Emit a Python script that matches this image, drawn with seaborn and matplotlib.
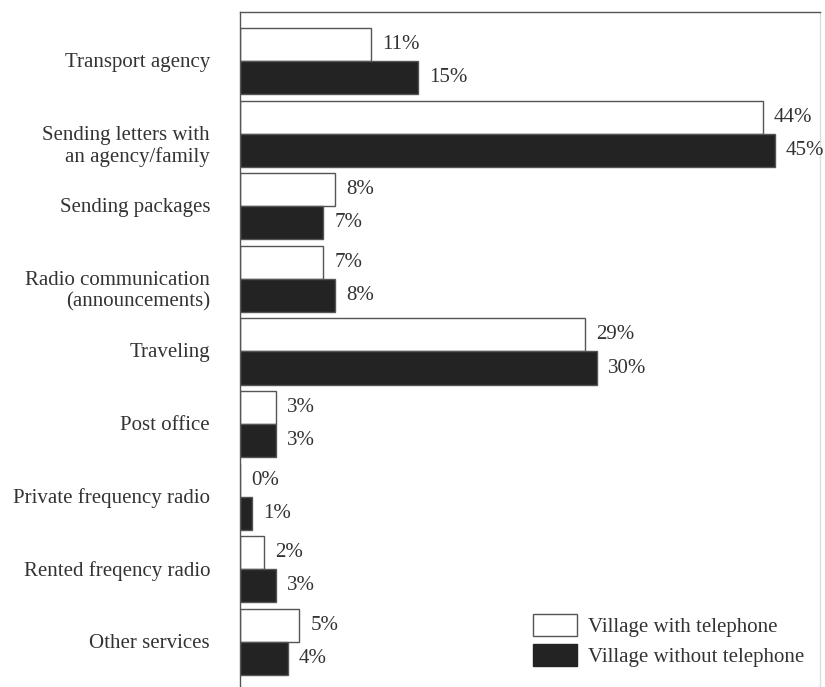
import matplotlib
matplotlib.use("Agg")
import matplotlib.pyplot as plt
import matplotlib.transforms as mtransforms
import seaborn as sns
import pandas as pd
from matplotlib.patches import Patch

categories = ["Transport agency", "Sending letters with\nan agency/family", "Sending packages",
              "Radio communication\n(announcements)", "Traveling", "Post office",
              "Private frequency radio", "Rented freqency radio", "Other services"]
with_tel = [11, 44, 8, 7, 29, 3, 0, 2, 5]
without_tel = [15, 45, 7, 8, 30, 3, 1, 3, 4]
series = ["Village with telephone", "Village without telephone"]

df = pd.DataFrame({
    "category": categories * 2,
    "value": with_tel + without_tel,
    "series": [series[0]] * len(categories) + [series[1]] * len(categories),
})

sns.set_style("white")
plt.rcParams['font.family'] = ['Liberation Serif', 'DejaVu Serif']
txt = "#333333"
fs = 15

fig = plt.figure(figsize=(8.25, 6.87), dpi=100)
ax = fig.add_axes([240/825, 0.0, 580/825, 1 - 12/687])

sns.barplot(data=df, y="category", x="value", hue="series", orient="h",
            palette=["white", "#232323"], width=0.91, ax=ax, legend=False,
            edgecolor="#555555", linewidth=1.0, saturation=1)

for cont in ax.containers:
    ax.bar_label(cont, labels=[f"{int(v)}%" for v in cont.datavalues], padding=8,
                 fontsize=fs, color=txt)

ax.set_xlim(0, 48.8)
ax.set_ylim(8.62, -0.675)
ax.set_xlabel("")
ax.set_ylabel("")
ax.set_xticks([])

# category labels: first line centred on the category position
yt = ax.get_yticks()
labels = [t.get_text() for t in ax.get_yticklabels()]
ax.set_yticklabels([""] * len(yt))
ax.tick_params(axis="y", length=0)
blend = mtransforms.blended_transform_factory(ax.transAxes, ax.transData)
for y, lab in zip(yt, labels):
    if "\n" in lab:
        tr = mtransforms.offset_copy(blend, fig=fig, x=-30, y=8, units="dots")
        ax.text(0, y, lab, transform=tr, ha="right", va="top", fontsize=fs,
                color=txt, multialignment="right", linespacing=1.15)
    else:
        tr = mtransforms.offset_copy(blend, fig=fig, x=-30, y=-1.5, units="dots")
        ax.text(0, y, lab, transform=tr, ha="right", va="center", fontsize=fs, color=txt)

ax.spines["bottom"].set_visible(False)
ax.spines["left"].set_color("#555555")
ax.spines["top"].set_color("#555555")
ax.spines["right"].set_color("#dddddd")
for s in ["left", "top", "right"]:
    ax.spines[s].set_linewidth(1.0)

handles = [Patch(facecolor="white", edgecolor="#555555", linewidth=1.0),
           Patch(facecolor="#232323", edgecolor="#232323", linewidth=1.0)]
ax.legend(handles, series, loc="lower right", bbox_to_anchor=(0.973, 0.03), frameon=False,
          fontsize=fs, handlelength=2.1, handleheight=1.25, labelcolor=txt,
          handletextpad=0.55, labelspacing=0.3, borderaxespad=0, borderpad=0)

fig.savefig("out.png", dpi=100)
